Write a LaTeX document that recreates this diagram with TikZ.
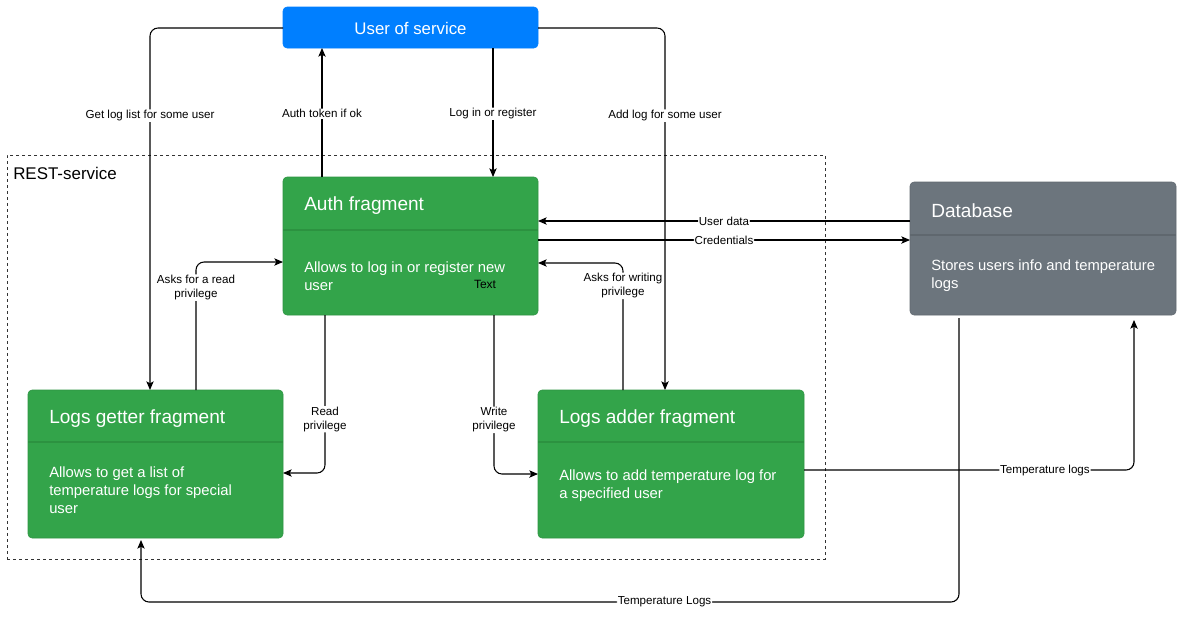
\documentclass[tikz,border=0pt]{standalone}
\usepackage{fontspec}
\setmainfont{Liberation Sans}
\usetikzlibrary{arrows.meta}
\definecolor{ublue}{RGB}{0,127,255}
\definecolor{fgreen}{RGB}{51,164,74}
\definecolor{dgreen}{RGB}{44,146,64}
\definecolor{dbgray}{RGB}{108,117,125}
\definecolor{ddgray}{RGB}{95,103,110}
\begin{document}
\begin{tikzpicture}[x=0.75pt,y=-0.75pt,
  boxbase/.style={rounded corners=3pt, inner sep=0pt, outer sep=0pt},
  greenbox/.style={boxbase, fill=fgreen, draw=fgreen!90!black, line width=0.4pt},
  graybox/.style={boxbase, fill=dbgray, draw=dbgray!90!black, line width=0.4pt},
  bluebox/.style={boxbase, fill=ublue, draw=ublue, line width=0.4pt},
  titletxt/.style={text=white, font=\fontsize{14.3}{17}\selectfont, anchor=west, inner sep=0pt},
  bodytxt/.style={text=white, font=\fontsize{11.1}{13.5}\selectfont, anchor=west, align=left, inner sep=0pt},
  lbl/.style={fill=white, text=black, font=\fontsize{8.7}{10.5}\selectfont, inner sep=0.6pt, align=center},
  conn/.style={draw=black, line width=0.8pt, rounded corners=6pt, -{Stealth[length=6.5pt,width=5.5pt,inset=1.5pt]}},
]
\useasboundingbox (0,0) rectangle (1182,618);
\fill[white] (0,0) rectangle (1182,618);

% REST-service container
\node[draw=black!80, dash pattern=on 2.25pt off 2.25pt, line width=0.75pt, minimum width=613.5pt, minimum height=303pt, inner sep=0pt] (rest) at (416,357) {};
\node[anchor=west, inner sep=0pt, font=\fontsize{12.7}{15}\selectfont] (restlbl) at (13,173) {REST-service};

% User of service
\node[bluebox, minimum width=191.25pt, minimum height=30.75pt] (user) at (410.5,27.5) {};
\node[text=white, font=\fontsize{12.6}{15}\selectfont, inner sep=0pt] (usertxt) at (410.5,28.5) {User of service};

% Auth fragment
\node[greenbox, minimum width=191.25pt, minimum height=103.5pt] (auth) at (410.5,246) {};
\draw[dgreen, line width=0.9pt] (auth.west |- 0,230) -- (auth.east |- 0,230);
\node[titletxt] (authtitle) at (304,205.5) {Auth fragment};
\node[bodytxt] (authbody) at (304,276) {Allows to log in or register new\\user};
\node[text=black, font=\fontsize{9}{11}\selectfont, inner sep=0pt] (authtext) at (485,284.5) {Text};

% Database
\node[graybox, minimum width=199.5pt, minimum height=99.75pt] (db) at (1043,248.5) {};
\draw[ddgray, line width=0.9pt] (db.west |- 0,235) -- (db.east |- 0,235);
\node[titletxt] (dbtitle) at (931,210.5) {Database};
\node[bodytxt] (dbbody) at (931,276) {Stores users info and temperature\\logs};

% Logs getter fragment
\node[greenbox, minimum width=191.25pt, minimum height=111pt] (getter) at (155.5,464) {};
\draw[dgreen, line width=0.9pt] (getter.west |- 0,442) -- (getter.east |- 0,442);
\node[titletxt] (gettertitle) at (49,418.5) {Logs getter fragment};
\node[bodytxt] (getterbody) at (49,490) {Allows to get a list of\\temperature logs for special\\user};

% Logs adder fragment
\node[greenbox, minimum width=199.5pt, minimum height=111pt] (adder) at (671,464) {};
\draw[dgreen, line width=0.9pt] (adder.west |- 0,442) -- (adder.east |- 0,442);
\node[titletxt] (addertitle) at (559,418.5) {Logs adder fragment};
\node[bodytxt] (adderbody) at (559,486) {Allows to add temperature log for\\a specified user};

% Connectors
\draw[conn] (user.west |- 0,28) -| node[lbl, pos=0.621] {Get log list for some user} (getter.north -| 150,0);
\draw[conn] (auth.north -| 322,0) -- node[lbl, pos=0.49] {Auth token if ok} (user.south -| 322,0);
\draw[conn] (user.south -| 493,0) -- node[lbl, pos=0.51] {Log in or register} (auth.north -| 493,0);
\draw[conn] (user.east |- 0,28) -| node[lbl, pos=0.621] {Add log for some user} (adder.north -| 665,0);

\draw[conn] (db.west |- 0,221) -- node[lbl] {User data} (auth.east |- 0,221);
\draw[conn] (auth.east |- 0,240) -- node[lbl] {Credentials} (db.west |- 0,240);

\draw[conn] (getter.north -| 196,0) |- node[lbl, pos=0.4] {Asks for a read\\privilege} (auth.west |- 0,262);
\draw[conn] (adder.north -| 623,0) |- node[lbl, pos=0.41] {Asks for writing\\privilege} (auth.east |- 0,263);

\draw[conn] (auth.south -| 325,0) |- node[lbl, pos=0.33] {Read\\privilege} (getter.east |- 0,473);
\draw[conn] (auth.south -| 494,0) |- node[lbl, pos=0.33] {Write\\privilege} (adder.west |- 0,474);

\coordinate (dbin) at (1134,320);
\draw[conn] (adder.east |- 0,470) -| node[lbl, pos=0.365] {Temperature logs} (dbin);

\coordinate (dbout) at (959,318);
\coordinate (c1) at (959,602);
\coordinate (c2) at (141,602);
\coordinate (getin) at (141,540);
\draw[conn] (dbout) -- (c1) -- node[lbl, pos=0.36] {Temperature Logs} (c2) -- (getin);
\end{tikzpicture}
\end{document}
